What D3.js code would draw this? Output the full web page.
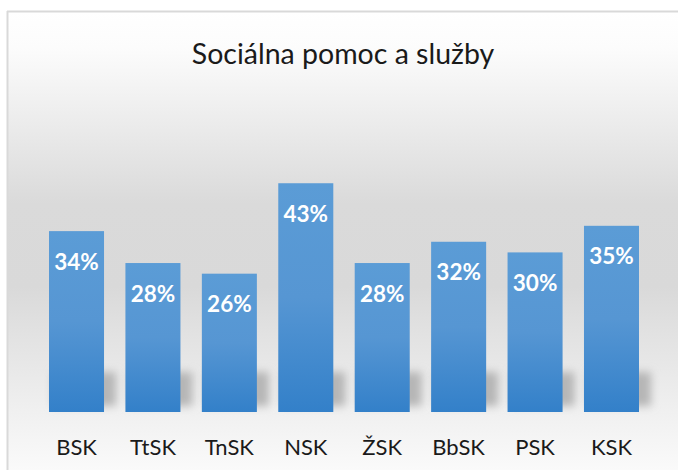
<!DOCTYPE html>
<html>
<head>
<meta charset="utf-8">
<script src="https://cdn.jsdelivr.net/npm/d3@7"></script>
<style>
  body { margin: 0; background: #fff; }
  .title { font-family: Lato, sans-serif; font-size: 28.5px; fill: #1a1a1a; }
  .xlab { font-family: Lato, sans-serif; font-size: 22px; fill: #1a1a1a; }
  .val { font-family: Lato, sans-serif; font-size: 22.5px; font-weight: bold; fill: #fff; }
</style>
</head>
<body>
<div id="chart"></div>
<script>
const categories = ['BSK', 'TtSK', 'TnSK', 'NSK', 'ŽSK', 'BbSK', 'PSK', 'KSK'];
const values = [0.34, 0.28, 0.26, 0.43, 0.28, 0.32, 0.30, 0.35];
const title = 'Sociálna pomoc a služby';

const width = 678, height = 470;
const svg = d3.select('#chart').append('svg')
    .attr('width', width)
    .attr('height', height);

const defs = svg.append('defs');

// chart area background: white at top, gray in the middle, light at bottom
const bg = defs.append('linearGradient')
    .attr('id', 'bg').attr('x1', 0).attr('y1', 0).attr('x2', 0).attr('y2', 1);
[[0, '#ffffff'], [0.08, '#fcfcfc'], [0.42, '#dadada'], [0.6, '#d9d9d9'], [0.86, '#efefef'], [1, '#fafafa']]
    .forEach(s => bg.append('stop').attr('offset', s[0]).attr('stop-color', s[1]));

const barGrad = defs.append('linearGradient')
    .attr('id', 'barGrad').attr('x1', 0).attr('y1', 0).attr('x2', 0).attr('y2', 1);
[[0, '#5b9cd6'], [0.5, '#5696d3'], [1, '#3380c9']]
    .forEach(s => barGrad.append('stop').attr('offset', s[0]).attr('stop-color', s[1]));

defs.append('filter').attr('id', 'blur')
    .attr('x', '-50%').attr('y', '-50%').attr('width', '200%').attr('height', '200%')
  .append('feGaussianBlur').attr('stdDeviation', 4);

svg.append('rect')
    .attr('x', 7).attr('y', 11)
    .attr('width', width - 7).attr('height', height - 11)
    .attr('fill', 'url(#bg)');
svg.append('line').attr('x1', 7).attr('x2', width).attr('y1', 11.5).attr('y2', 11.5)
    .attr('stroke', '#d9d9d9').attr('stroke-width', 2);
svg.append('line').attr('x1', 7.5).attr('x2', 7.5).attr('y1', 11).attr('y2', height)
    .attr('stroke', '#d9d9d9').attr('stroke-width', 2);

svg.append('text')
    .attr('class', 'title')
    .attr('x', 343).attr('y', 64)
    .attr('text-anchor', 'middle')
    .text(title);

const x = d3.scaleBand()
    .domain(categories)
    .range([38.3, 649.7])
    .paddingInner(0.28)
    .paddingOuter(0.14);

const baseY = 412;
const y = d3.scaleLinear()
    .domain([0, 0.5])
    .range([baseY, baseY - 266]);

const data = categories.map((c, i) => ({ key: c, value: values[i] }));

const g = svg.append('g');

// soft shadow band under bars
g.selectAll('rect.shadow')
    .data(data)
    .enter()
    .append('rect')
    .attr('class', 'shadow')
    .attr('x', d => x(d.key) + 4)
    .attr('y', baseY - 40)
    .attr('width', x.bandwidth() + 8)
    .attr('height', 34)
    .attr('fill', '#b6b6b6')
    .attr('filter', 'url(#blur)');

g.selectAll('rect.bar')
    .data(data)
    .enter()
    .append('rect')
    .attr('class', 'bar')
    .attr('x', d => x(d.key))
    .attr('y', d => y(d.value))
    .attr('width', x.bandwidth())
    .attr('height', d => baseY - y(d.value))
    .attr('fill', 'url(#barGrad)');

g.selectAll('text.val')
    .data(data)
    .enter()
    .append('text')
    .attr('class', 'val')
    .attr('x', d => x(d.key) + x.bandwidth() / 2)
    .attr('y', d => y(d.value) + 38.5)
    .attr('text-anchor', 'middle')
    .text(d => d3.format('.0%')(d.value));

const xaxisG = svg.append('g')
    .attr('transform', 'translate(0,' + baseY + ')')
    .call(d3.axisBottom(x).tickSize(0).tickPadding(0));
xaxisG.select('.domain').remove();
xaxisG.selectAll('text')
    .attr('class', 'xlab')
    .attr('font-family', null).attr('font-size', null).attr('fill', null)
    .attr('dy', null)
    .attr('y', 43);
</script>
</body>
</html>
